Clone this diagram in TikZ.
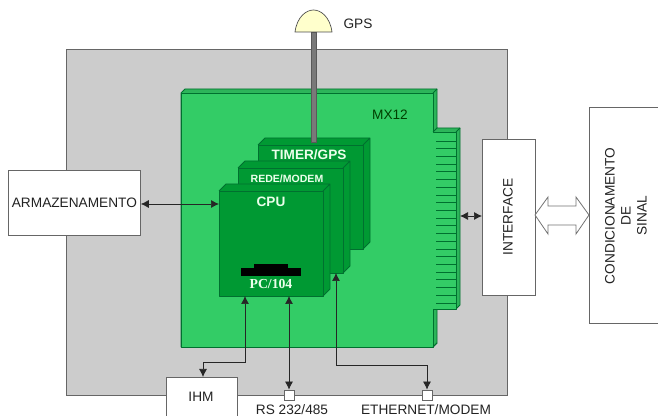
\documentclass[tikz,border=0pt]{standalone}
\usepackage{fontspec}
\setmainfont{Liberation Sans}
\newfontfamily\serifb{Liberation Serif}
\usetikzlibrary{arrows.meta}
\definecolor{graybg}{HTML}{CCCCCC}
\definecolor{board}{HTML}{33CC66}
\definecolor{boardline}{HTML}{00702F}
\definecolor{card}{HTML}{009933}
\definecolor{dome}{HTML}{FFFFCC}
\definecolor{txt}{HTML}{222222}
\tikzset{
  px/.style={x=0.75pt,y=-0.75pt},
  boxw/.style={draw=black!60,fill=white,line width=0.6pt},
  gline/.style={draw=boardline,line width=0.7pt,line join=round},
  lbl/.style={inner sep=0pt,text=txt,font=\fontsize{10.25pt}{12pt}\selectfont,align=center},
  cardbig/.style={inner sep=0pt,text=white!92!green,font=\bfseries\fontsize{10.2pt}{12pt}\selectfont},
  cardsmall/.style={inner sep=0pt,text=white!92!green,font=\bfseries\fontsize{7.9pt}{9pt}\selectfont},
  cardserif/.style={inner sep=0pt,text=white!92!green,font=\serifb\bfseries\fontsize{10.3pt}{12pt}\selectfont},
  dbl/.style={draw=black!85,line width=0.55pt,{Latex[length=6pt,width=6pt]}-{Latex[length=6pt,width=6pt]}},
}
\begin{document}
\begin{tikzpicture}[px]
\useasboundingbox (0,0) rectangle (658,416);
% housing
\draw[fill=graybg,draw=black!60,line width=0.6pt] (66,49) rectangle (507,395);
% board
\draw[gline,fill=board!88!black] (181,93) -- (185,89) -- (437,89) -- (437,128) -- (460,128) -- (460,305) -- (456,309) -- (437,309) -- (437,343) -- (433,347) -- (181,347) -- cycle;
\draw[gline,fill=board] (181,93) -- (433,93) -- (433,132) -- (456,132) -- (456,309) -- (433,309) -- (433,347) -- (181,347) -- cycle;
\draw[gline] (433,93) -- (437,89) (433,132) -- (437,128) (456,132) -- (460,128) (433,347) -- (437,343);
\foreach \k in {0,...,21} \draw[gline,line width=0.55pt] (436,141+\k*7.71) -- (456,141+\k*7.71);
\node[lbl,text=black!75!green] (mx) at (390,115) {MX12};
% timer card
\fill[card] (258,145) -- (265,138) -- (370,138) -- (370,242) -- (363,249) -- (258,249) -- cycle;
\draw[gline] (258,145) rectangle (363,249);
\draw[gline] (258,145) -- (265,138) -- (370,138) -- (370,242) -- (363,249) (363,145) -- (370,138);
% antenna
\draw[draw=black!65,fill=gray!95!black,line width=0.5pt] (311,32) rectangle (316,142);
\draw[fill=dome,draw=black!70,line width=0.5pt] (295,32) .. controls (297,17) and (306,10) .. (313.5,10) .. controls (321,10) and (330,17) .. (332,32) -- cycle;
\node[lbl] (gps) at (358,24) {GPS};
% rede card
\fill[card] (238,168) -- (245,161) -- (350,161) -- (350,266) -- (343,273) -- (238,273) -- cycle;
\draw[gline] (238,168) rectangle (343,273);
\draw[gline] (238,168) -- (245,161) -- (350,161) -- (350,266) -- (343,273) (343,168) -- (350,161);
% cpu card
\fill[card] (219,191) -- (226,184) -- (330,184) -- (330,289) -- (323,296) -- (219,296) -- cycle;
\draw[gline] (219,191) rectangle (323,296);
\draw[gline] (219,191) -- (226,184) -- (330,184) -- (330,289) -- (323,296) (323,191) -- (330,184);
\node[cardbig] (timer) at (309,155) {TIMER/GPS};
\node[cardsmall] (rede) at (287,179) {REDE/MODEM};
\node[cardbig] (cpu) at (271,202) {CPU};
% chip
\fill[black] (241,268) rectangle (301,276);
\fill[black] (254,264) rectangle (288,268);
\node[cardserif] (pc) at (271,284) {PC/104};
% external boxes
\node[boxw,lbl,minimum width=99pt,minimum height=48.75pt,anchor=north west] (arm) at (8,170) {ARMAZENAMENTO};
\draw[boxw] (166,377) rectangle (237,420);
\node[lbl] (ihm) at (201,397) {IHM};
\node[boxw,anchor=north west,minimum width=39.75pt,minimum height=117pt] (iface) at (482,139) {};
\node[lbl,rotate=90] (ifacet) at (508,217) {INTERFACE};
\draw[boxw] (589,107) rectangle (665,323);
\node[lbl,rotate=90] (cond) at (626,216) {CONDICIONAMENTO\\DE\\SINAL};
% hollow arrow
\draw[draw=black!55,fill=white,line width=0.6pt] (535,215) -- (548,197) -- (548,206) -- (576,206) -- (576,197) -- (589,215) -- (576,234) -- (576,225) -- (548,225) -- (548,234) -- cycle;
% ports
\node[boxw,minimum size=7.5pt,inner sep=0pt] (rs) at (289,395) {};
\node[boxw,minimum size=7.5pt,inner sep=0pt] (eth) at (427,395) {};
\node[lbl,anchor=north] (rst) at (292,404) {RS 232/485};
\node[lbl,anchor=north] (etht) at (426,404) {ETHERNET/MODEM};
% connectors
\coordinate (armE) at (arm.east |- 0,204);
\coordinate (cpuW) at (219,204);
\draw[dbl] (armE) -- (cpuW);
\coordinate (bE) at (460,216);
\coordinate (iW) at (482,216);
\draw[dbl] (bE) -- (iW);
\coordinate (cpuS1) at (245,296);
\coordinate (ihmN) at (203,377);
\draw[dbl] (cpuS1) -- (245,362) -- (203,362) -- (ihmN);
\coordinate (cpuS2) at (289,296);
\draw[dbl] (cpuS2) -- (rs.north);
\coordinate (redeS) at (336,273);
\draw[dbl] (redeS) -- (336,365) -- (427,365) -- (eth.north);
\end{tikzpicture}
\end{document}
